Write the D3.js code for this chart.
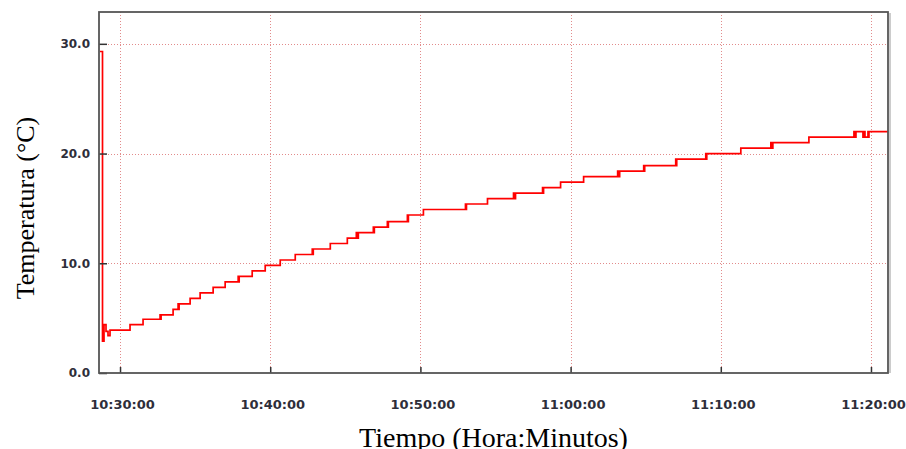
<!DOCTYPE html>
<html>
<head>
<meta charset="utf-8">
<script src="https://cdn.jsdelivr.net/npm/d3@7"></script>
<style>
  body { margin: 0; background: #fff; }
</style>
</head>
<body>
<div id="chart"></div>
<script>
// logger readings: time of reading, temperature held until next reading
var readTimes = [
  "10:28:40","10:28:50","10:28:56","10:29:04","10:29:12","10:29:20",
  "10:30:40","10:31:32","10:32:40","10:32:42","10:32:44","10:33:32","10:33:52","10:33:54",
  "10:33:56","10:34:40","10:35:20","10:36:12","10:37:00","10:37:52","10:37:54","10:37:56",
  "10:38:48","10:39:40","10:40:40","10:41:40","10:42:48","10:42:50","10:42:52","10:44:00",
  "10:45:08","10:45:44","10:45:46","10:45:52","10:46:52","10:46:54","10:46:56","10:47:48",
  "10:47:50","10:47:52","10:49:08","10:49:10","10:49:12","10:50:12","10:53:00","10:53:02",
  "10:53:04","10:54:28","10:56:12","10:56:14","10:56:16","10:56:18","10:56:20","10:58:08",
  "10:58:10","10:58:12","10:59:20","11:00:52","11:03:08","11:03:10","11:03:12","11:03:14",
  "11:03:16","11:04:52","11:04:54","11:04:56","11:07:00","11:07:02","11:07:04","11:09:00",
  "11:09:02","11:09:04","11:11:20","11:13:20","11:13:22","11:13:24","11:13:26","11:13:28",
  "11:15:52","11:18:52","11:18:54","11:18:56","11:18:58","11:19:00","11:19:28","11:19:30",
  "11:19:32","11:19:34","11:19:36","11:19:48","11:19:50","11:19:52","11:20:52","11:21:08"
];
var readTemps = [
  29.3, 2.9, 4.4, 3.8, 3.4, 3.9,
  4.4, 4.9, 5.3, 4.9, 5.3, 5.8, 6.3, 5.8,
  6.3, 6.8, 7.3, 7.8, 8.3, 8.8, 8.3, 8.8,
  9.3, 9.8, 10.3, 10.8, 11.3, 10.8, 11.3, 11.8,
  12.3, 12.8, 12.3, 12.8, 13.3, 12.8, 13.3, 13.8,
  13.3, 13.8, 14.4, 13.8, 14.4, 14.9, 15.4, 14.9,
  15.4, 15.9, 16.4, 15.9, 16.4, 15.9, 16.4, 16.9,
  16.4, 16.9, 17.4, 17.9, 18.4, 17.9, 18.4, 17.9,
  18.4, 18.9, 18.4, 18.9, 19.5, 18.9, 19.5, 20.0,
  19.5, 20.0, 20.5, 21.0, 20.5, 21.0, 20.5, 21.0,
  21.5, 22.0, 21.5, 22.0, 21.5, 22.0, 21.5, 22.0,
  21.5, 22.0, 21.5, 22.0, 21.5, 22.0, 22.0, 22.0
];
var yTicks = [0, 10, 20, 30];
var timeRange = ["10:28:36", "11:21:08"];
var tempRange = [0, 32.9];

var parseTime = d3.timeParse("%H:%M:%S");
var data = readTimes.map(function(t, i) {
  return { time: parseTime(t), temp: readTemps[i] };
});

var width = 906, height = 449;
var plot = { left: 99, right: 888, top: 12, bottom: 373 };

var svg = d3.select("#chart")
  .append("svg")
  .attr("width", width)
  .attr("height", height);

var x = d3.scaleTime()
  .domain(timeRange.map(parseTime))
  .range([plot.left, plot.right]);

var y = d3.scaleLinear()
  .domain(tempRange)
  .range([plot.bottom, plot.top]);

var xTicks = x.ticks(d3.timeMinute.every(10));

// dotted grid
var grid = svg.append("g").attr("stroke", "#d77").attr("stroke-width", 1)
  .attr("stroke-dasharray", "1,2").attr("opacity", 0.85);

grid.selectAll(".hgrid")
  .data(yTicks.filter(function(d) { return d > 0; }))
  .enter().append("line")
  .attr("x1", plot.left)
  .attr("x2", plot.right)
  .attr("y1", function(d) { return Math.round(y(d)) + 0.5; })
  .attr("y2", function(d) { return Math.round(y(d)) + 0.5; });

grid.selectAll(".vgrid")
  .data(xTicks)
  .enter().append("line")
  .attr("y1", plot.top)
  .attr("y2", plot.bottom)
  .attr("x1", function(d) { return Math.round(x(d)) + 0.5; })
  .attr("x2", function(d) { return Math.round(x(d)) + 0.5; });

// temperature line
svg.append("clipPath").attr("id", "clip")
  .append("rect")
  .attr("x", plot.left)
  .attr("y", plot.top)
  .attr("width", plot.right - plot.left)
  .attr("height", plot.bottom - plot.top);

var line = d3.line()
  .x(function(d) { return x(d.time); })
  .y(function(d) { return y(d.temp); })
  .curve(d3.curveStepAfter);

svg.append("path")
  .datum(data)
  .attr("clip-path", "url(#clip)")
  .attr("d", line)
  .attr("fill", "none")
  .attr("stroke", "#ff0000")
  .attr("stroke-width", 1.7);

// axes
var yAxis = svg.append("g")
  .attr("transform", "translate(" + plot.left + ",0)")
  .call(d3.axisLeft(y).tickValues(yTicks).tickFormat(d3.format(".1f")).tickSize(-8).tickPadding(9));

var xAxis = svg.append("g")
  .attr("transform", "translate(0," + plot.bottom + ")")
  .call(d3.axisBottom(x).tickValues(xTicks).tickFormat(d3.timeFormat("%H:%M:%S")).tickSize(-6).tickPadding(27));

[yAxis, xAxis].forEach(function(ax) {
  ax.select(".domain").remove();
  ax.selectAll("line").attr("stroke", "#333").attr("stroke-width", 1.5);
  ax.selectAll("text")
    .attr("fill", "#2e2e3a")
    .attr("font-family", "DejaVu Sans, Verdana, sans-serif")
    .attr("font-weight", "bold");
});
yAxis.selectAll("text").attr("font-size", 12);
xAxis.selectAll("text").attr("font-size", 13).attr("dx", 2);

// frame
svg.append("line").attr("x1", plot.right + 2).attr("x2", plot.right + 2)
  .attr("y1", plot.top + 1).attr("y2", plot.bottom)
  .attr("stroke", "#bbb").attr("stroke-width", 1.5);
svg.append("rect")
  .attr("x", plot.left)
  .attr("y", plot.top)
  .attr("width", plot.right - plot.left)
  .attr("height", plot.bottom - plot.top)
  .attr("fill", "none")
  .attr("stroke", "#555")
  .attr("stroke-width", 1.8);

// titles
svg.append("text")
  .attr("transform", "translate(34,208) rotate(-90)")
  .attr("text-anchor", "middle")
  .attr("font-family", "Liberation Serif, Times New Roman, serif")
  .attr("font-size", 26)
  .attr("fill", "#000")
  .text("Temperatura (°C)");

svg.append("text")
  .attr("x", (plot.left + plot.right) / 2)
  .attr("y", 447)
  .attr("text-anchor", "middle")
  .attr("font-family", "Liberation Serif, Times New Roman, serif")
  .attr("font-size", 28)
  .attr("fill", "#000")
  .text("Tiempo (Hora:Minutos)");
</script>
</body>
</html>
